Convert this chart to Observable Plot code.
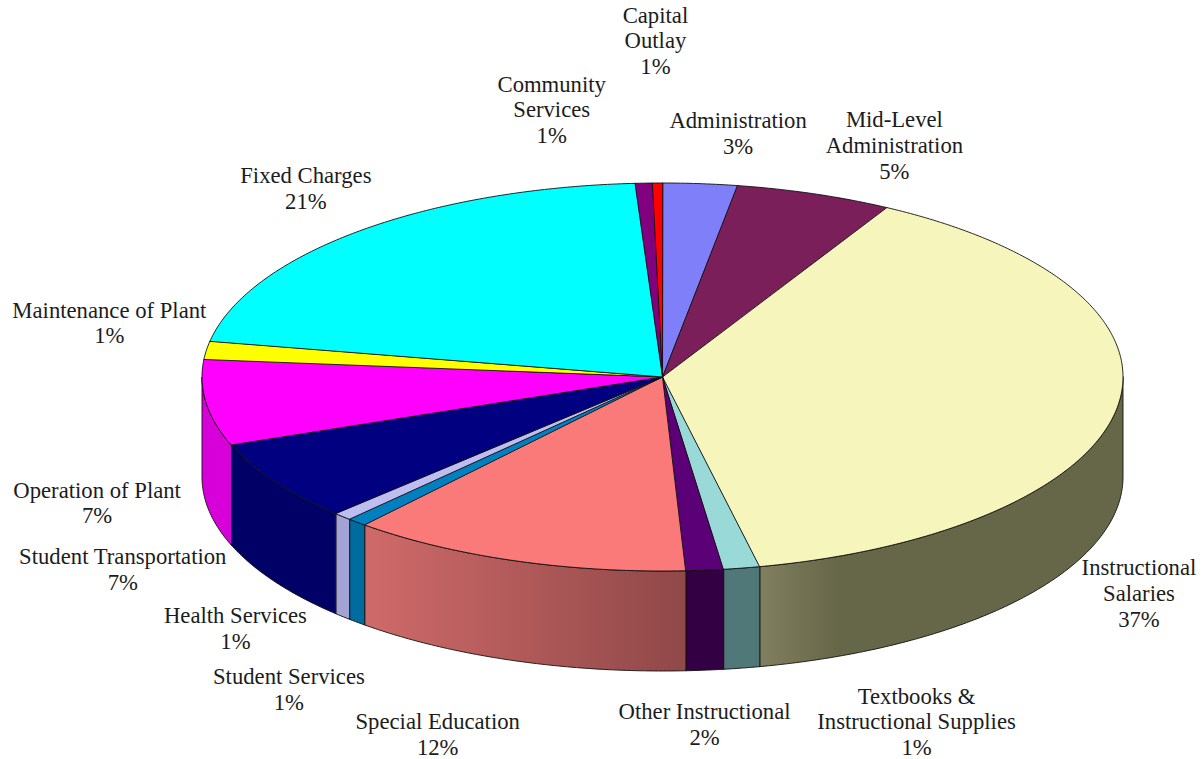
<!DOCTYPE html>
<html>
<head>
<meta charset="utf-8">
<script src="https://cdn.jsdelivr.net/npm/d3@7"></script>
<script src="https://cdn.jsdelivr.net/npm/@observablehq/plot@0.6"></script>
<style>html,body{margin:0;padding:0;background:#fff}</style>
</head>
<body>
<div id="chart"></div>
<script>
const categories = ["Administration","Mid-Level\nAdministration","Instructional\nSalaries","Textbooks &\nInstructional Supplies","Other Instructional","Special Education","Student Services","Health Services","Student Transportation","Operation of Plant","Maintenance of Plant","Fixed Charges","Community\nServices","Capital\nOutlay"];
const printedPercents = [3,5,37,1,2,12,1,1,7,7,1,21,1,1];
// slice sizes
const shares = [2.6,5.5,38.52,1.27,1.31,12.0,0.7,0.66,6.74,7.14,1.5,21.11,0.6,0.35];
const topColors = ["#7F7FFA","#7A1F5A","#F6F6BC","#99DAD8","#5C0078","#FA7A7A","#0080C0","#BDBDF2","#000080","#FF00FF","#FFFF00","#00FFFF","#800080","#FF0000"];
const sideColors = ["#6666CC","#621848","url(#sideInstr)","#507878","#330044","url(#sideSpecial)","#006C9E","#A3A3D6","#000066","#D800D8","#CCCC00","#00CCCC","#660066","#CC0000"];
const labelNudgeX = [38,80,21,175,0,-77,-68,-107,-152,-109,-97,-52,-92,-2];
const labelNudgeY = [-51,-49,187,153,153.5,173,166.5,111,87,99.5,-28,-44,-74,-143];

const W = 1203, H = 759, cx = 662, cy = 376.5, rx = 460.5;
const tilt = 194 / rx, depth = 100 / rx;
const rad = d3.scaleLinear([0, 100], [0, 2 * Math.PI]);
const px = a => Math.sin(a), py = a => Math.cos(a) * tilt;

let cum = 0;
const slices = categories.map((name, i) => {
  const start = cum; cum += shares[i];
  return {name, i, a0: rad(start), a1: rad(cum), mid: rad(start + shares[i] / 2)};
});
const arc = (a0, a1) => {
  const n = Math.max(2, Math.ceil((a1 - a0) / 0.01));
  return d3.range(n + 1).map(k => a0 + (a1 - a0) * k / n);
};
const topFaces = slices.flatMap(s => [
  {name: s.name, fill: topColors[s.i], x: 0, y: 0},
  ...arc(s.a0, s.a1).map(a => ({name: s.name, fill: topColors[s.i], x: px(a), y: py(a)}))
]);
const sideFaces = slices.flatMap(s => {
  const a0 = Math.max(s.a0, Math.PI / 2), a1 = Math.min(s.a1, 3 * Math.PI / 2);
  if (a1 <= a0) return [];
  const as = arc(a0, a1);
  return [
    ...as.map(a => ({name: s.name, fill: sideColors[s.i], x: px(a), y: py(a)})),
    ...as.slice().reverse().map(a => ({name: s.name, fill: sideColors[s.i], x: px(a), y: py(a) - depth}))
  ];
});

const gradients = () => {
  const defs = d3.create("svg:defs");
  const add = (id, stops) => {
    const g = defs.append("linearGradient").attr("id", id).attr("x1", 0).attr("x2", 1).attr("y1", 0).attr("y2", 0);
    stops.forEach(([o, c]) => g.append("stop").attr("offset", o).attr("stop-color", c));
  };
  add("sideInstr", [[0, "#808060"], [0.22, "#666648"], [1, "#666648"]]);
  add("sideSpecial", [[0, "#D06A6A"], [1, "#904848"]]);
  return defs.node();
};

const face = data => Plot.line(data, {
  x: "x", y: "y", z: "name",
  fill: {value: "fill", scale: null},
  stroke: "#111", strokeWidth: 0.9, curve: "linear-closed"
});

const labels = slices.map(s => Plot.text(
  [{text: `${s.name}\n${printedPercents[s.i]}%`, x: px(s.mid), y: py(s.mid)}],
  {x: "x", y: "y", text: "text", dx: labelNudgeX[s.i], dy: labelNudgeY[s.i],
   fontFamily: "Liberation Serif", fontSize: 22.7, lineHeight: 1.13, lineAnchor: "middle", textAnchor: "middle", fill: "#1c1c1c"}
));

const chart = Plot.plot({
  width: W, height: H, margin: 0,
  style: {background: "#fff"},
  x: {axis: null, domain: [-cx / rx, (W - cx) / rx], range: [0, W]},
  y: {axis: null, domain: [-(H - cy) / rx, cy / rx], range: [H, 0]},
  marks: [gradients, face(sideFaces), face(topFaces), ...labels]
});
document.getElementById("chart").append(chart);
</script>
</body>
</html>
